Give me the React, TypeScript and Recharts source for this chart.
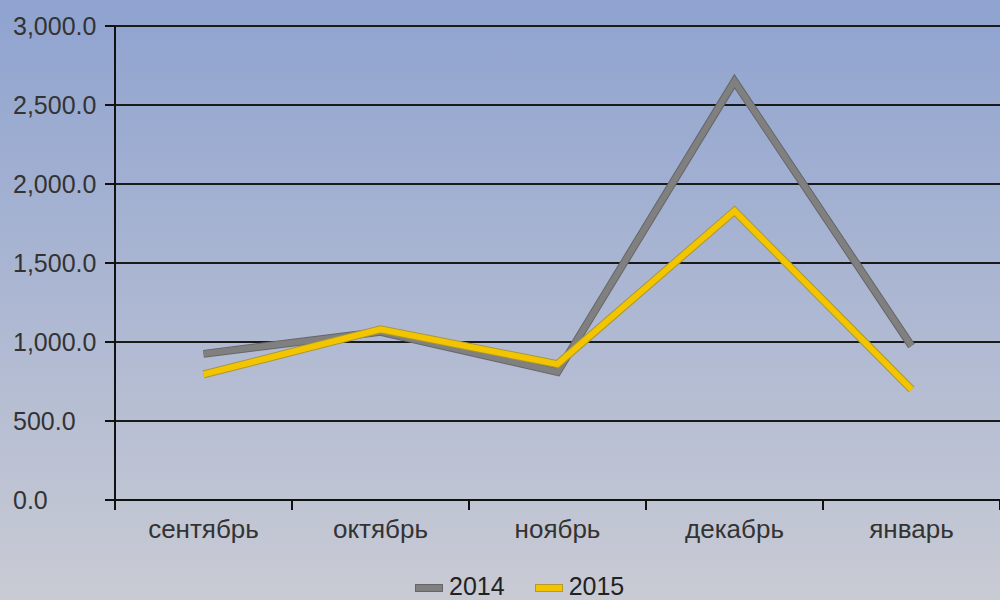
import { CartesianGrid, Legend, Line, LineChart, XAxis, YAxis } from "recharts";

const months = ["сентябрь", "октябрь", "ноябрь", "декабрь", "январь"];
const sales2014 = [925, 1065, 810, 2650, 975];
const sales2015 = [795, 1080, 860, 1830, 700];
const yTicks = [0, 500, 1000, 1500, 2000, 2500, 3000];

const rows = months.map((month, i) => ({
  month,
  y2014: sales2014[i],
  y2015: sales2015[i]
}));

const PLOT_LEFT = 115;
const PLOT_RIGHT = 1000;
const HALF_BAND = (PLOT_RIGHT - PLOT_LEFT) / months.length / 2;
const FONT = "Liberation Sans, Arial, sans-serif";

const fmt = (v: number) =>
  v.toLocaleString("en-US", { minimumFractionDigits: 1, maximumFractionDigits: 1 });

// y labels are left aligned in the original
const ValueTick = (props: any) => {
  const { y, payload } = props;
  return (
    <text x={13} y={y + 9} textAnchor="start" fill="#333" fontSize={25} fontFamily={FONT}>
      {fmt(payload.value)}
    </text>
  );
};

const MonthTick = (props: any) => {
  const { x, y, payload, index } = props;
  const axisY = y - 10;
  return (
    <g>
      <line x1={x - HALF_BAND} x2={x - HALF_BAND} y1={axisY} y2={axisY + 10} stroke="#111" strokeWidth={2} />
      {index === months.length - 1 && (
        <line x1={x + HALF_BAND} x2={x + HALF_BAND} y1={axisY} y2={axisY + 10} stroke="#111" strokeWidth={2} />
      )}
      <text x={x} y={y + 28} textAnchor="middle" fill="#333" fontSize={26} fontFamily={FONT}>
        {payload.value}
      </text>
    </g>
  );
};

const legendItems = [
  { label: "2014", color: "#808080", edge: "#666" },
  { label: "2015", color: "#f2c500", edge: "#b59a2a" }
];

const ChartLegend = () => (
  <div
    style={{
      display: "flex",
      alignItems: "center",
      height: 28,
      marginLeft: 415,
      fontFamily: FONT,
      fontSize: 25,
      color: "#222"
    }}
  >
    {legendItems.map((item) => (
      <div key={item.label} style={{ display: "flex", alignItems: "center", marginRight: 30 }}>
        <span
          style={{
            width: 28,
            height: 8,
            background: item.color,
            border: `1px solid ${item.edge}`,
            boxSizing: "border-box",
            marginRight: 6,
            marginTop: 4
          }}
        />
        <span style={{ lineHeight: "28px" }}>{item.label}</span>
      </div>
    ))}
  </div>
);

export default function App() {
  return (
    <div
      style={{
        position: "fixed",
        left: 0,
        top: 0,
        width: 1000,
        height: 600,
        background: "linear-gradient(to bottom, #8fa3d0, #c9cbd4)"
      }}
    >
      <LineChart width={1000} height={600} data={rows} margin={{ top: 26, right: 0, bottom: 0, left: 0 }}>
        <CartesianGrid vertical={false} stroke="#1a1a1a" strokeWidth={2} />
        <XAxis
          dataKey="month"
          scale="band"
          height={72}
          tickSize={10}
          tickMargin={0}
          tickLine={false}
          axisLine={{ stroke: "#111", strokeWidth: 2 }}
          tick={<MonthTick />}
          interval={0}
        />
        <YAxis
          width={115}
          domain={[0, 3000]}
          ticks={yTicks}
          tickSize={10}
          tickMargin={5}
          axisLine={{ stroke: "#111", strokeWidth: 2 }}
          tickLine={{ stroke: "#111", strokeWidth: 2 }}
          tick={<ValueTick />}
        />
        <Legend verticalAlign="bottom" height={28} content={<ChartLegend />} />
        <Line dataKey="y2014" stroke="#666" strokeWidth={8} dot={false} strokeLinejoin="miter" legendType="none" isAnimationActive={false} />
        <Line dataKey="y2014" name="2014" stroke="#808080" strokeWidth={6} dot={false} strokeLinejoin="miter" isAnimationActive={false} />
        <Line dataKey="y2015" stroke="#a8963a" strokeWidth={8} dot={false} strokeLinejoin="miter" legendType="none" isAnimationActive={false} />
        <Line dataKey="y2015" name="2015" stroke="#f2c500" strokeWidth={6} dot={false} strokeLinejoin="miter" isAnimationActive={false} />
      </LineChart>
    </div>
  );
}
